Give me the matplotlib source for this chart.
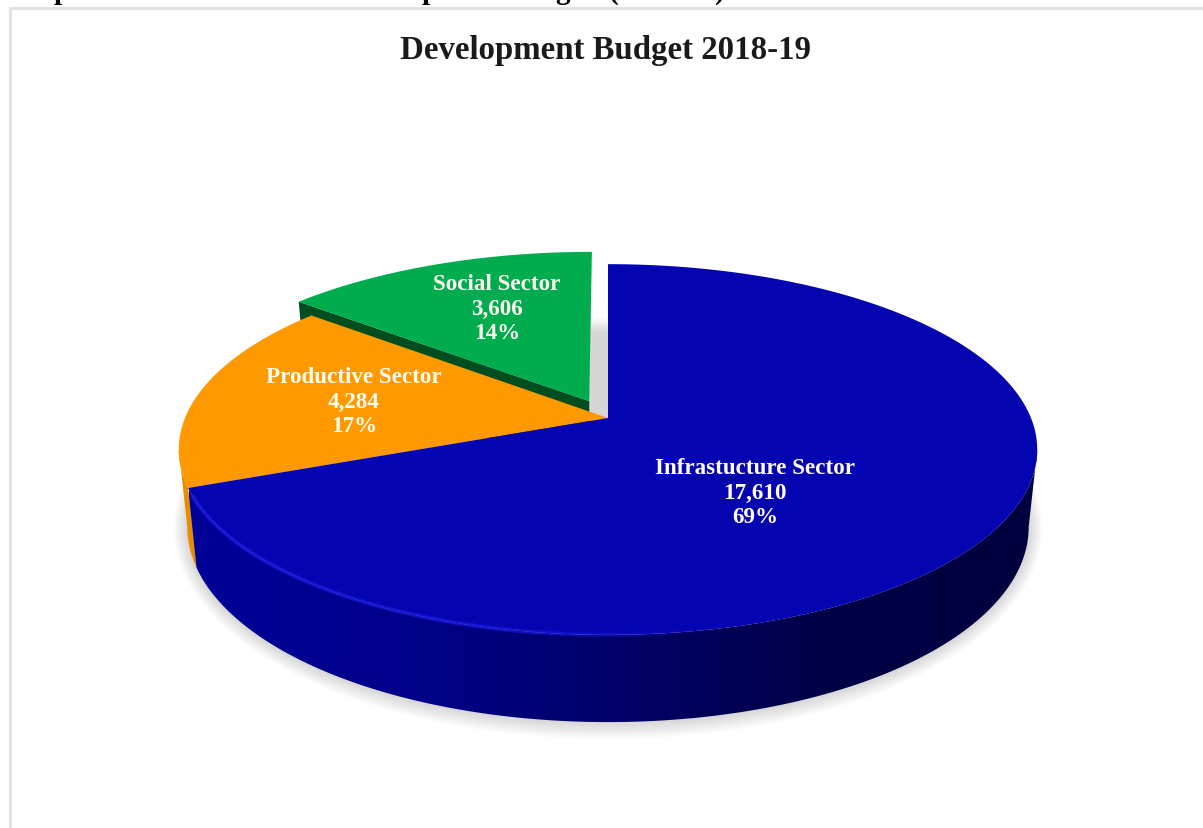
import numpy as np
import matplotlib
matplotlib.use("Agg")
import matplotlib.pyplot as plt
from matplotlib.collections import LineCollection
from matplotlib.colors import LinearSegmentedColormap
from matplotlib.patches import Polygon

# Data
title = "Development Budget 2018-19"
sectors = ["Infrastucture Sector", "Productive Sector", "Social Sector"]
budget = [17610, 4284, 3606]

# Bottoms of the caption letters cut off by the top edge of the picture
caption_letters = ["p", "p", "g", "(", ")"]

# Perspective of the pie, in pixels of the picture
CX, CY = 608, 419
RX, RY = 423, 180
PERSP = 0.17
DEPTH = 76
BASE_SCALE = 0.98
EXPLODE = 0.105


def project(u, v, bottom=False):
    # u runs to the right on the pie disc, v towards the viewer
    s = 1 / (1 - PERSP * v)
    x = RX * u * s
    y = RY * v * s
    if bottom:
        return CX + BASE_SCALE * x, CY + BASE_SCALE * y + DEPTH * s
    return CX + x, CY + y


def rim(a0, a1, du=0, dv=0, bottom=False, n=200):
    # angles are clockwise from twelve o'clock
    t = np.radians(np.linspace(a0, a1, n))
    x, y = project(du + np.sin(t), dv - np.cos(t), bottom)
    return np.column_stack([x, y])


def top_face(a0, a1, du=0, dv=0):
    apex = np.array(project(du, dv))
    return np.vstack([apex, rim(a0, a1, du, dv)])


def wall(a0, a1, du=0, dv=0):
    return np.vstack([rim(a0, a1, du, dv), rim(a0, a1, du, dv, True)[::-1]])


fig = plt.figure(figsize=(12.03, 8.29), dpi=100)
ax = fig.add_axes([0, 0, 1, 1])
serif = "Liberation Serif"

# Slice angles
total = sum(budget)
sweep = [360 * b / total for b in budget]
blue_end = sweep[0]
orange_end = blue_end + sweep[1]

# The pie silhouette is widest where v equals PERSP
right_turn = 90 + np.degrees(np.arcsin(PERSP))
left_turn = 270 - np.degrees(np.arcsin(PERSP))

# Frame of the chart area and the cut off caption
ax.plot([10, 10, 1203], [829, 8.5, 8.5], color="#e2e2e2", lw=2.2, solid_joinstyle="miter")
for letter, x in zip(caption_letters, [62, 430, 563, 614, 720]):
    ax.text(x, -1, letter, family=serif, weight="bold", fontsize=21, color="black",
            ha="center", va="baseline")

# Soft shadow under the base
base = rim(0, 360, bottom=True)
mid = base.mean(axis=0)
half = (base.max(axis=0) - base.min(axis=0)) / 2
for d in range(1, 21):
    grow = np.array([d * 0.7, d * 0.8]) / half
    ring = (base - mid) * (1 + grow) + mid
    ax.add_patch(Polygon(ring, closed=True, fc="black", ec="none", alpha=0.007))

# Social sector, pulled out of the pie
mid_angle = np.radians(orange_end + sweep[2] / 2)
du = EXPLODE * np.sin(mid_angle)
dv = -EXPLODE * np.cos(mid_angle)
a = project(du + np.sin(np.radians(orange_end)), dv - np.cos(np.radians(orange_end)))
a_low = project(du + np.sin(np.radians(orange_end)), dv - np.cos(np.radians(orange_end)), True)
b = project(du, dv)
b_low = project(du, dv, True)
ax.add_patch(Polygon([a, b, b_low, a_low], closed=True, fc="#004d1f", ec="none"))
ax.add_patch(Polygon(top_face(orange_end, 360, du, dv), closed=True, fc="#00ac4e", ec="none"))

# Productive sector
ax.add_patch(Polygon(wall(blue_end, left_turn), closed=True, fc="#e88c00", ec="none"))
ax.add_patch(Polygon(top_face(blue_end, orange_end), closed=True, fc="#ff9900", ec="none"))

# Infrastructure sector, side wall shaded from left to right
side = Polygon(wall(right_turn, blue_end), closed=True, fc="none", ec="none")
ax.add_patch(side)
shade = LinearSegmentedColormap.from_list(
    "side", [(0, "#000098"), (0.25, "#00008a"), (0.5, "#000068"), (0.75, "#000046"), (1, "#00003e")]
)
im = ax.imshow(np.linspace(0, 1, 256).reshape(1, -1), cmap=shade, aspect="auto",
               extent=[189, 1040, 760, 300], zorder=1.5)
im.set_clip_path(side)
ax.add_patch(Polygon(top_face(0, blue_end), closed=True, fc="#0404b0", ec="none", zorder=2))

# Bright edge along the front of the blue slice
edge = rim(blue_end - 2, 150, n=150)
segs = np.stack([edge[:-1], edge[1:]], axis=1)
fade = np.interp(edge[:-1, 0], [190, 520, 720], [0.55, 0.55, 0])
colors = np.zeros((len(segs), 4))
colors[:] = matplotlib.colors.to_rgba("#2020f0")
colors[:, 3] = fade
ax.add_collection(LineCollection(segs, colors=colors, linewidths=3, zorder=2.2))

# Title and slice labels
ax.text(606, 50, title, family=serif, weight="bold", fontsize=23.7, color="#1a1a1a",
        ha="center", va="center", zorder=3)
label_xy = [(755, 493), (354, 402), (497, 309)]
for name, value, (x, y) in zip(sectors, budget, label_xy):
    ax.text(x, y, f"{name}\n{value:,}\n{round(100 * value / total)}%", family=serif,
            weight="bold", fontsize=16.6, color="#fffdf0", ha="center", va="center",
            linespacing=1.24, zorder=3)

ax.set_xlim(0, 1203)
ax.set_ylim(829, 0)
ax.axis("off")

fig.savefig("out.png", dpi=100)
